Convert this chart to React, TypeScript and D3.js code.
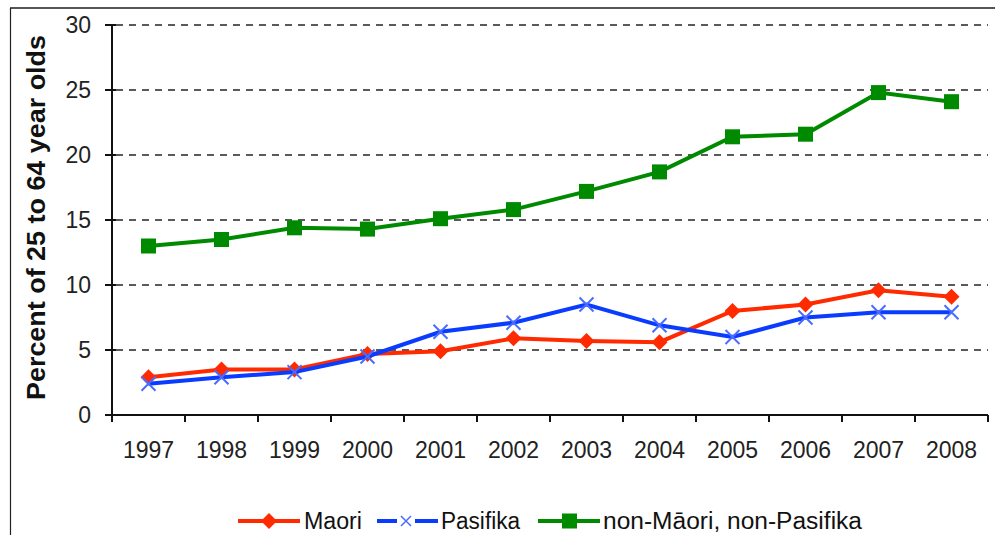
import React from 'react';
import * as d3 from 'd3';

const years = ['1997', '1998', '1999', '2000', '2001', '2002', '2003', '2004', '2005', '2006', '2007', '2008'];
const maori = [2.9, 3.5, 3.5, 4.7, 4.9, 5.9, 5.7, 5.6, 8.0, 8.5, 9.6, 9.1];
const pasifika = [2.4, 2.9, 3.3, 4.5, 6.4, 7.1, 8.5, 6.9, 6.0, 7.5, 7.9, 7.9];
const nonMaori = [13.0, 13.5, 14.4, 14.3, 15.1, 15.8, 17.2, 18.7, 21.4, 21.6, 24.8, 24.1];
const yTicks = [0, 5, 10, 15, 20, 25, 30];

const RED = '#ff2a00';
const BLUE = '#0a3cff';
const BLUE_X = '#4a6cff';
const GREEN = '#008a00';
const FONT = '"Liberation Sans", Arial, sans-serif';

const left = 112;
const right = 988;
const top = 25;
const bottom = 415;

const App: React.FC = () => {
    const x = d3.scaleBand<string>().domain(years).range([left, right]).padding(0);
    const y = d3.scaleLinear().domain([0, 30]).range([bottom, top]);
    const cx = (yr: string) => (x(yr) as number) + x.bandwidth() / 2;

    const line = d3.line<number>()
        .x((_d, i) => cx(years[i]))
        .y(d => y(d));

    const diamond = (px: number, py: number, r: number) =>
        `M${px},${py - r}L${px + r},${py}L${px},${py + r}L${px - r},${py}Z`;
    const cross = (px: number, py: number, r: number) =>
        `M${px - r},${py - r}L${px + r},${py + r}M${px - r},${py + r}L${px + r},${py - r}`;

    const xTickPos = years.map(yr => x(yr) as number).concat([right]);

    return (
        <svg width={995} height={535} style={{ position: 'absolute', left: 0, top: 0, background: '#fff' }}
            fontFamily={FONT}>
            {/* frame */}
            <line x1={10} y1={8} x2={995} y2={8} stroke="#555" strokeWidth={2} />
            <line x1={10.5} y1={8} x2={10.5} y2={535} stroke="#222" strokeWidth={1.2} />

            {/* gridlines */}
            {yTicks.filter(t => t > 0).map(t => (
                <line key={'g' + t} x1={left + 4} x2={right} y1={y(t)} y2={y(t)}
                    stroke="#5a5a5a" strokeWidth={2} strokeDasharray="7,6" />
            ))}

            {/* y axis */}
            <line x1={left} x2={left} y1={top} y2={bottom} stroke="#111" strokeWidth={2} />
            {yTicks.map(t => (
                <g key={'y' + t}>
                    <line x1={left - 7} x2={left + 4} y1={y(t)} y2={y(t)} stroke="#111" strokeWidth={2} />
                    <text x={91} y={y(t)} dy="0.36em" textAnchor="end" fontSize={23} fill="#222">{t}</text>
                </g>
            ))}

            {/* x axis */}
            <line x1={left} x2={right} y1={bottom} y2={bottom} stroke="#111" strokeWidth={2} />
            {xTickPos.map((p, i) => (
                <line key={'xt' + i} x1={p} x2={p} y1={bottom} y2={bottom + 7} stroke="#111" strokeWidth={2} />
            ))}
            {years.map(yr => (
                <text key={'xl' + yr} x={cx(yr)} y={458} textAnchor="middle" fontSize={23} fill="#222">{yr}</text>
            ))}

            {/* y title */}
            <text transform={`translate(45,${(35 + 400) / 2}) rotate(-90)`} textAnchor="middle"
                fontSize={25} fontWeight="bold" fill="#111" textLength={365} lengthAdjust="spacingAndGlyphs">
                Percent of 25 to 64 year olds
            </text>

            {/* series */}
            <path d={line(maori) || ''} fill="none" stroke={RED} strokeWidth={4} />
            {maori.map((v, i) => (
                <path key={'m' + i} d={diamond(cx(years[i]), y(v), 8)} fill={RED} />
            ))}

            <path d={line(pasifika) || ''} fill="none" stroke={BLUE} strokeWidth={4} />
            {pasifika.map((v, i) => (
                <path key={'p' + i} d={cross(cx(years[i]), y(v), 7)} fill="none" stroke={BLUE_X} strokeWidth={2} />
            ))}

            <path d={line(nonMaori) || ''} fill="none" stroke={GREEN} strokeWidth={4} />
            {nonMaori.map((v, i) => (
                <rect key={'n' + i} x={cx(years[i]) - 7.5} y={y(v) - 7.5} width={15} height={15} fill={GREEN} />
            ))}

            {/* legend */}
            <g>
                <line x1={238} x2={300} y1={521} y2={521} stroke={RED} strokeWidth={4} />
                <path d={diamond(269, 521, 8)} fill={RED} />
                <text x={304} y={521} dy="0.36em" fontSize={23} textLength={58} lengthAdjust="spacingAndGlyphs" fill="#111">Maori</text>

                <line x1={377} x2={397} y1={521} y2={521} stroke={BLUE} strokeWidth={4} />
                <path d={cross(406, 521, 5)} fill="none" stroke={BLUE_X} strokeWidth={1.5} />
                <line x1={415} x2={438} y1={521} y2={521} stroke={BLUE} strokeWidth={4} />
                <text x={441} y={521} dy="0.36em" fontSize={23} textLength={79} lengthAdjust="spacingAndGlyphs" fill="#111">Pasifika</text>

                <line x1={538} x2={600} y1={521} y2={521} stroke={GREEN} strokeWidth={4} />
                <rect x={562} y={513.5} width={15} height={15} fill={GREEN} />
                <text x={603} y={521} dy="0.36em" fontSize={23} textLength={259} lengthAdjust="spacingAndGlyphs" fill="#111">non-Māori, non-Pasifika</text>
            </g>
        </svg>
    );
};

export default App;
